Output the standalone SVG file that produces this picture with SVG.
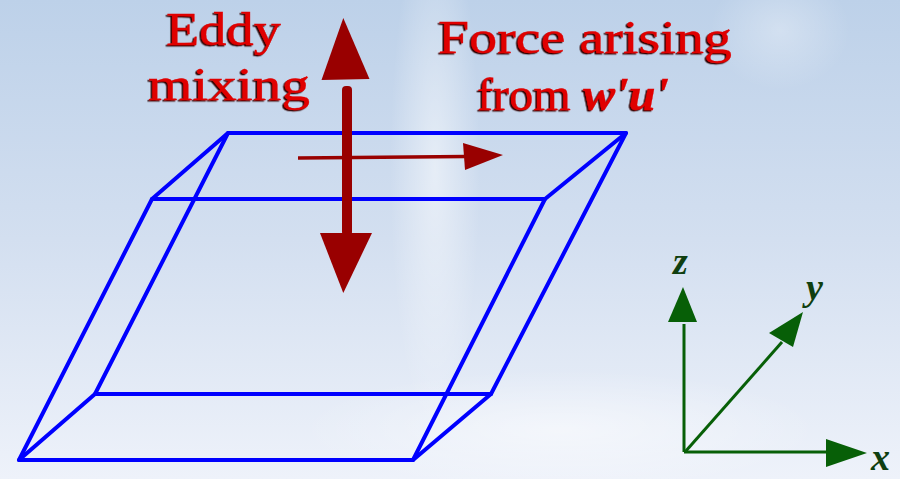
<svg xmlns="http://www.w3.org/2000/svg" width="900" height="479" viewBox="0 0 900 479">
  <defs>
    <linearGradient id="bg" x1="0" y1="0" x2="0" y2="1">
      <stop offset="0" stop-color="#bdd1e9"/>
      <stop offset="0.5" stop-color="#d3dff0"/>
      <stop offset="1" stop-color="#eef2fa"/>
    </linearGradient>
    <radialGradient id="glow" cx="0.5" cy="0.5" r="0.5">
      <stop offset="0" stop-color="#ffffff" stop-opacity="0.5"/>
      <stop offset="1" stop-color="#ffffff" stop-opacity="0"/>
    </radialGradient>
    <filter id="shadow" x="-10%" y="-10%" width="120%" height="130%">
      <feDropShadow dx="-1.6" dy="1.3" stdDeviation="0.3" flood-color="#300000" flood-opacity="1"/>
    </filter>
    <style>
      .lbl { font-family: "Liberation Serif", "Times New Roman", serif; font-weight: normal; font-size: 47px; fill: #e00000; stroke: #e00000; stroke-width: 0.3; filter: url(#shadow); }
      .ax { font-family: "Liberation Serif", "Times New Roman", serif; font-style: italic; font-weight: bold; font-size: 38px; fill: #103f10; }
      .box { fill: none; stroke: #0000ff; stroke-width: 4; stroke-linejoin: round; stroke-linecap: round; }
      .axis { stroke: #075f07; stroke-width: 3; fill: none; }
      .axhead { fill: #075f07; }
      .red { fill: #990000; }
    </style>
  </defs>

  <rect width="900" height="479" fill="url(#bg)"/>
  <ellipse cx="435" cy="170" rx="45" ry="260" fill="url(#glow)"/>
  <ellipse cx="780" cy="30" rx="70" ry="60" fill="url(#glow)" opacity="0.6"/>
  <ellipse cx="560" cy="430" rx="260" ry="60" fill="url(#glow)"/>

  <g id="box">
    <path class="box" d="M228,133 L626,133 L545,199 L152,199 Z"/>
    <path class="box" d="M95,394 L491,394 L413,460 L19,460 Z"/>
    <path class="box" d="M228,133 L95,394 M626,133 L491,394 M152,199 L19,460 M545,199 L413,460"/>
  </g>

  <g id="eddy-arrow">
    <polygon class="red" points="343.3,18 321.5,80 369.5,79"/>
    <rect class="red" x="342" y="86" width="10" height="150" rx="4"/>
    <polygon class="red" points="320,233 372,233 343.3,293"/>
  </g>

  <g id="force-arrow">
    <line x1="298" y1="158" x2="466" y2="156.5" stroke="#990000" stroke-width="3.5"/>
    <polygon class="red" points="463,143 465,170 503,155"/>
  </g>

  <g id="label-eddy">
    <text class="lbl" x="166" y="45" textLength="115" lengthAdjust="spacingAndGlyphs">Eddy</text>
    <text class="lbl" x="148" y="100" textLength="162" lengthAdjust="spacingAndGlyphs">mixing</text>
  </g>

  <g id="label-force">
    <text class="lbl" x="438" y="53" textLength="294" lengthAdjust="spacingAndGlyphs">Force arising</text>
    <text class="lbl" x="477" y="110" textLength="192" lengthAdjust="spacingAndGlyphs">from <tspan font-style="italic" font-weight="bold">w'u'</tspan></text>
  </g>

  <g id="axes">
    <line class="axis" x1="684" y1="452" x2="684" y2="324"/>
    <polygon class="axhead" points="683,287 668,322 697,322"/>
    <line class="axis" x1="684" y1="452" x2="830" y2="452"/>
    <polygon class="axhead" points="826,439 826,467 867,453"/>
    <line class="axis" x1="685" y1="452" x2="782" y2="342" stroke-width="4.5"/>
    <polygon class="axhead" points="803,312 769,333 793,347"/>
    <text class="ax" x="673" y="274">z</text>
    <text class="ax" x="806" y="300">y</text>
    <text class="ax" x="871" y="470">x</text>
  </g>
</svg>
